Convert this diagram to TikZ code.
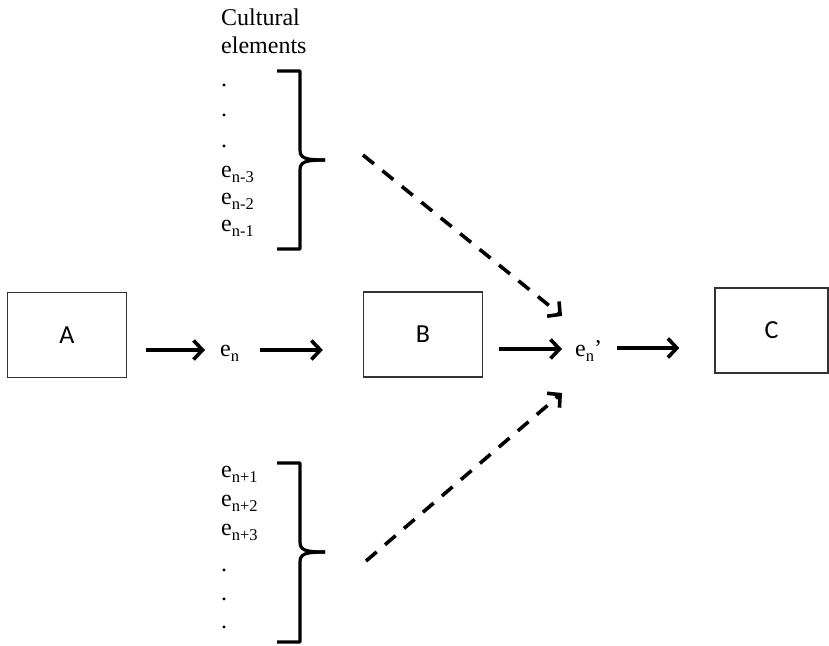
\documentclass[tikz,border=0pt]{standalone}
\usepackage{fontspec}
\setmainfont{Liberation Serif}
\newfontfamily\boxfont{Carlito}
\usetikzlibrary{arrows.meta}
\newcommand\sbs[1]{\raisebox{-5pt}{\fontsize{16.5}{17}\selectfont #1}}
\begin{document}
\begin{tikzpicture}[x=1pt,y=-1pt,
  box/.style={draw=black!80,line width=1.3pt,minimum width=119pt,minimum height=85pt,inner sep=0pt,font=\boxfont\fontsize{26}{30}\selectfont},
  lbl/.style={anchor=base west,inner sep=0pt,font=\fontsize{24}{27}\selectfont},
  flow/.style={line width=3.6pt,-{Straight Barb[length=9pt,width=19pt,line width=3.6pt]}},
  infl/.style={flow,dash pattern=on 14pt off 11pt},
  brace/.style={line width=3.2pt,line join=round,line cap=butt}]
\useasboundingbox (0,0) rectangle (829,645);
% boxes
\node[box] (A) at (67,335) {A};
\node[box] (B) at (423,334.5) {B};
\node[box,minimum width=113pt] (C) at (771.5,330.5) {C};
% middle elements
\node[lbl] (en) at (220,356) {e\sbs{n}};
\node[lbl] (enp) at (575,356) {e\sbs{n}’};
% top list
\node[lbl] (t1) at (221,25) {Cultural};
\node[lbl] (t2) at (221,53) {elements};
\node[lbl] (d1) at (221,86) {.};
\node[lbl] (d2) at (221,116) {.};
\node[lbl] (d3) at (221,147) {.};
\node[lbl] (u3) at (221,177) {e\sbs{n-3}};
\node[lbl] (u2) at (221,204) {e\sbs{n-2}};
\node[lbl] (u1) at (221,231) {e\sbs{n-1}};
% bottom list
\node[lbl] (l1) at (221,477) {e\sbs{n+1}};
\node[lbl] (l2) at (221,506) {e\sbs{n+2}};
\node[lbl] (l3) at (221,535) {e\sbs{n+3}};
\node[lbl] (d4) at (221,571) {.};
\node[lbl] (d5) at (221,600) {.};
\node[lbl] (d6) at (221,628) {.};
% braces
\draw[brace] (277,71) -- (300,71) -- (300,150) .. controls (300,158) and (305,160) .. (325,160);
\draw[brace] (277,249) -- (300,249) -- (300,170) .. controls (300,162) and (305,160) .. (325,160);
\draw[brace] (277,463) -- (300,463) -- (300,542) .. controls (300,550) and (305,552) .. (325,552);
\draw[brace] (277,642) -- (300,642) -- (300,562) .. controls (300,554) and (305,552) .. (325,552);
\coordinate (topbr) at (325,160);
\coordinate (botbr) at (325,552);
\coordinate (in1) at (562,316);
\coordinate (in2) at (562,393);
% flows
\draw[flow] ([xshift=19pt]A.east |- 0,350) -- ([xshift=-15pt]en.west |- 0,350);
\draw[flow] ([xshift=40pt]en.west |- 0,350) -- ([xshift=-40pt]B.west |- 0,350);
\draw[flow] ([xshift=16pt]B.east |- 0,349) -- ([xshift=-13pt]enp.west |- 0,349);
\draw[flow] ([xshift=42pt]enp.west |- 0,348) -- ([xshift=-35pt]C.west |- 0,348);
% influences
\draw[infl] ([shift={(38pt,5pt)}]topbr) -- (in1);
\draw[infl] ([shift={(41pt,-9pt)}]botbr) -- (in2);
\end{tikzpicture}
\end{document}
